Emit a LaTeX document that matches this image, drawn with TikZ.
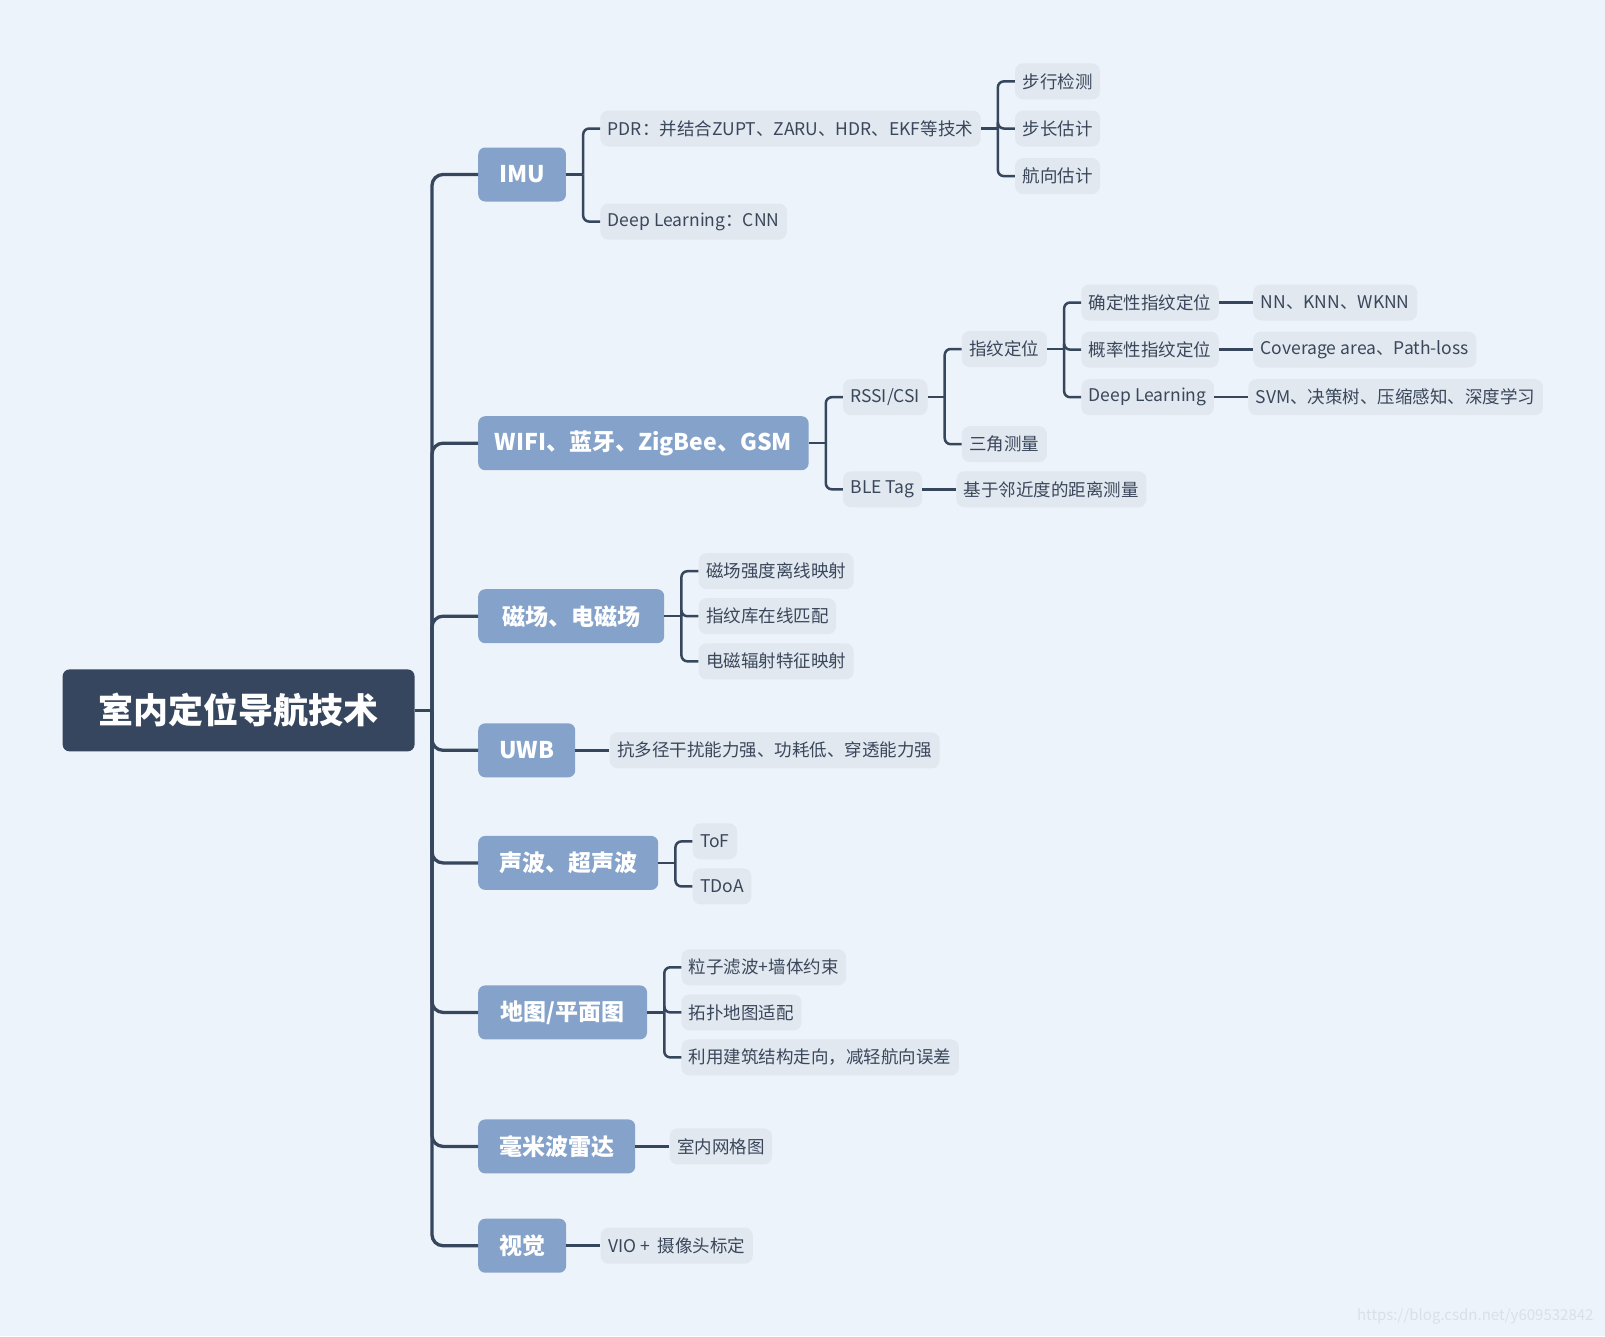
\documentclass[tikz,border=0pt]{standalone}
\usepackage{fontspec}
\setmainfont{Noto Sans CJK SC}
\definecolor{bgc}{HTML}{EDF3FA}
\definecolor{rootc}{HTML}{35465E}
\definecolor{topc}{HTML}{85A3CA}
\definecolor{leafc}{HTML}{E1E8F0}
\definecolor{linec}{HTML}{36465C}
\definecolor{txtc}{HTML}{3A475A}
\definecolor{wmc}{HTML}{D8E0E9}
\newcommand\kids[2]{%
  \draw[conn] (#1.east) -- ++(17,0) coordinate (#1-f);
  \foreach \c in {#2} {\draw[conn,rounded corners=6pt] (#1-f) |- (\c.west);}
}
\begin{document}
\begin{tikzpicture}[x=1pt,y=-1pt,
  conn/.style={draw=linec,line width=2.5pt},
  mainline/.style={draw=linec,line width=3.3pt},
  rootbox/.style={fill=rootc,text=white,rounded corners=7pt,font=\fontsize{35}{40}\selectfont\bfseries,minimum height=82pt,minimum width=352pt,anchor=west},
  topic/.style={fill=topc,text=white,rounded corners=7pt,font=\fontsize{23}{28}\selectfont\bfseries,minimum height=54pt,inner xsep=21pt,anchor=west},
  leaf/.style={fill=leafc,text=txtc,rounded corners=8pt,font=\fontsize{17.5}{21}\selectfont,minimum height=36pt,inner xsep=7.5pt,anchor=west,xshift=34pt},
]
\fill[bgc] (0,0) rectangle (1605,1336);
\useasboundingbox (0,0) rectangle (1605,1336);

% root
\node[rootbox] (root) at (62.4,710.4) {室内定位导航技术};
\coordinate (tk) at (432,710.4);

% level 1
\node[topic] (imu)  at (478,174.5)  {IMU};
\node[topic,inner xsep=16.5pt] (wifi) at (478,443.2)  {WIFI、蓝牙、ZigBee、GSM};
\node[topic,inner xsep=24pt] (mag)  at (478,616.2)  {磁场、电磁场};
\node[topic] (uwb)  at (478,750.3)  {UWB};
\node[topic] (snd)  at (478,862.9)  {声波、超声波};
\node[topic,inner xsep=22.5pt] (map)  at (478,1012.4) {地图/平面图};
\node[topic] (mmw)  at (478,1146.4) {毫米波雷达};
\node[topic] (vis)  at (478,1245.7) {视觉};

\draw[mainline] (root.east) -- (tk);
\foreach \t in {imu,wifi,mag,uwb,snd,map,mmw,vis}
  {\draw[mainline,rounded corners=11pt] (tk) |- (\t.west);}

% IMU
\node[leaf] (pdr) at (imu.east |- 0,128.5) {PDR：并结合ZUPT、ZARU、HDR、EKF等技术};
\node[leaf] (dl1) at (imu.east |- 0,221.6) {Deep Learning：CNN};
\kids{imu}{pdr,dl1}
\node[leaf] (bx) at (pdr.east |- 0,81.4)  {步行检测};
\node[leaf] (bc) at (pdr.east |- 0,128.5) {步长估计};
\node[leaf] (hx) at (pdr.east |- 0,176.1) {航向估计};
\kids{pdr}{bx,bc,hx}

% WIFI
\node[leaf] (rssi) at (wifi.east |- 0,397.2) {RSSI/CSI};
\node[leaf] (ble)  at (wifi.east |- 0,489.3) {BLE Tag};
\kids{wifi}{rssi,ble}
\node[leaf] (zw) at (rssi.east |- 0,349.0) {指纹定位};
\node[leaf] (sj) at (rssi.east |- 0,444.2) {三角测量};
\kids{rssi}{zw,sj}
\node[leaf] (qd) at (zw.east |- 0,302.5) {确定性指纹定位};
\node[leaf] (gl) at (zw.east |- 0,349.6) {概率性指纹定位};
\node[leaf] (dl2) at (zw.east |- 0,397.2) {Deep Learning};
\kids{zw}{qd,gl,dl2}
\node[leaf] (nn) at (qd.east) {NN、KNN、WKNN};
\draw[conn] (qd.east) -- (nn.west);
\node[leaf] (cov) at (gl.east) {Coverage area、Path-loss};
\draw[conn] (gl.east) -- (cov.west);
\node[leaf] (svm) at (dl2.east) {SVM、决策树、压缩感知、深度学习};
\draw[conn] (dl2.east) -- (svm.west);
\node[leaf] (jy) at (ble.east) {基于邻近度的距离测量};
\draw[conn] (ble.east) -- (jy.west);

% magnetic
\node[leaf] (m1) at (mag.east |- 0,571.2) {磁场强度离线映射};
\node[leaf] (m2) at (mag.east |- 0,616.2) {指纹库在线匹配};
\node[leaf] (m3) at (mag.east |- 0,661.3) {电磁辐射特征映射};
\kids{mag}{m1,m2,m3}

% UWB
\node[leaf] (u1) at (uwb.east) {抗多径干扰能力强、功耗低、穿透能力强};
\draw[conn] (uwb.east) -- (u1.west);

% sound
\node[leaf] (s1) at (snd.east |- 0,841.4) {ToF};
\node[leaf] (s2) at (snd.east |- 0,886.4) {TDoA};
\kids{snd}{s1,s2}

% map
\node[leaf] (p1) at (map.east |- 0,967.3)  {粒子滤波+墙体约束};
\node[leaf] (p2) at (map.east |- 0,1012.4) {拓扑地图适配};
\node[leaf] (p3) at (map.east |- 0,1057.4) {利用建筑结构走向，减轻航向误差};
\kids{map}{p1,p2,p3}

% mmWave
\node[leaf] (r1) at (mmw.east) {室内网格图};
\draw[conn] (mmw.east) -- (r1.west);

% vision
\node[leaf] (v1) at (vis.east) {VIO + \ 摄像头标定};
\draw[conn] (vis.east) -- (v1.west);

% watermark
\node[text=wmc,font=\fontsize{15}{18}\selectfont,anchor=east] (wm) at (1597,1316) {https://blog.csdn.net/y609532842};
\end{tikzpicture}
\end{document}
